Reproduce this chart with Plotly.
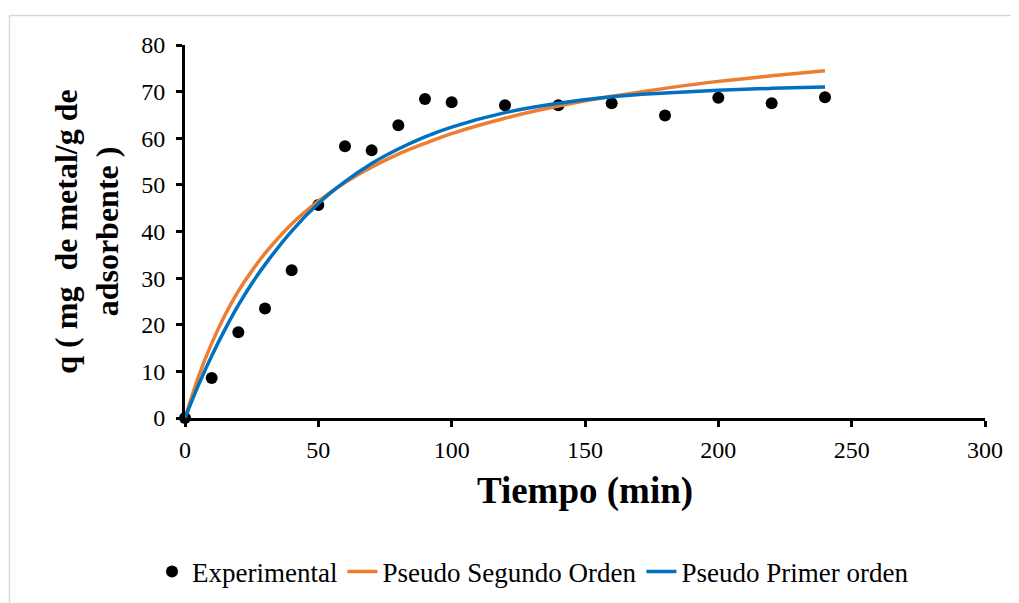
import plotly.graph_objects as go

t_exp = [0, 10, 20, 30, 40, 50, 60, 70, 80, 90, 100, 120, 140, 160, 180, 200, 220, 240]
q_exp = [0, 8.6, 18.4, 23.5, 31.7, 45.7, 58.3, 57.4, 62.8, 68.4, 67.7, 67.1, 67.1, 67.5, 64.9, 68.7, 67.5, 68.8]

# Model curves
t_model = [0, 5, 10, 15, 20, 25, 30, 40, 50, 60, 70, 80, 90, 100, 120, 140, 160, 180, 200, 220, 240]
q_pso = [0, 8.8, 16.0, 22.1, 27.2, 31.5, 35.3, 41.6, 46.5, 50.5, 53.8, 56.6, 58.9, 61.0, 64.3, 66.9, 69.0, 70.7, 72.2, 73.4, 74.5]
q_pfo = [0, 7.0, 13.3, 19.0, 24.2, 28.8, 32.9, 40.1, 46.0, 50.7, 54.6, 57.7, 60.3, 62.4, 65.5, 67.5, 68.9, 69.7, 70.3, 70.7, 71.0]

x_ticks = [0, 50, 100, 150, 200, 250, 300]
y_ticks = [0, 10, 20, 30, 40, 50, 60, 70, 80]

FONT = "Liberation Serif"

# page body has an 8px margin; figure sized to fit the window
W, H = 1011, 595
L, T = 177, 37
PW, PH = 800, 373

fig = go.Figure()
fig.add_trace(go.Scatter(x=t_exp, y=q_exp, mode="markers", name="Experimental",
                         marker=dict(color="black", size=12), cliponaxis=False))
fig.add_trace(go.Scatter(x=t_model, y=q_pso, mode="lines", name="Pseudo Segundo Orden",
                         line=dict(color="#ED7D31", width=3.5, shape="spline")))
fig.add_trace(go.Scatter(x=t_model, y=q_pfo, mode="lines", name="Pseudo Primer orden",
                         line=dict(color="#0070C0", width=3.5, shape="spline")))

fig.update_layout(
    width=W, height=H,
    margin=dict(l=L, r=W - L - PW, t=T, b=H - T - PH, autoexpand=False),
    paper_bgcolor="white", plot_bgcolor="white",
    font=dict(family=FONT, size=24, color="black"),
    showlegend=True,
    legend=dict(orientation="h", x=0.435, xanchor="center", y=-(572 - 418) / 373, yanchor="middle",
                font=dict(size=27, family=FONT, color="black"), traceorder="normal"),
    xaxis=dict(range=[0, 300], tickvals=x_ticks, showgrid=False, zeroline=False,
               showline=True, linecolor="black", linewidth=3, automargin=False,
               ticks="outside", ticklen=6, tickwidth=3, tickcolor="black",
               ticklabelstandoff=2,
               tickfont=dict(size=24, family=FONT, color="black"),
               title=dict(text="<b>Tiempo (min)</b>", font=dict(size=37, family=FONT, color="black"), standoff=16)),
    yaxis=dict(range=[0, 80], tickvals=y_ticks, showgrid=False, zeroline=False,
               showline=True, linecolor="black", linewidth=3, automargin=False,
               ticks="outside", ticklen=6, tickwidth=3, tickcolor="black",
               ticklabelstandoff=6,
               tickfont=dict(size=24, family=FONT, color="black"),
               title=dict(text="<b>q ( mg  de metal/g de<br>adsorbente )</b>",
                          font=dict(size=32, family=FONT, color="black"), standoff=13)),
)

# light outer border of the chart area
fig.add_shape(type="rect", xref="paper", yref="paper",
              x0=(9.5 - 8 - L) / PW, x1=(1040 - L) / PW,
              y0=-(640 - 418) / PH, y1=1 + (45 - 15.5) / PH,
              line=dict(color="#D9D9D9", width=1.5), layer="below")

fig.write_html("out.html")
